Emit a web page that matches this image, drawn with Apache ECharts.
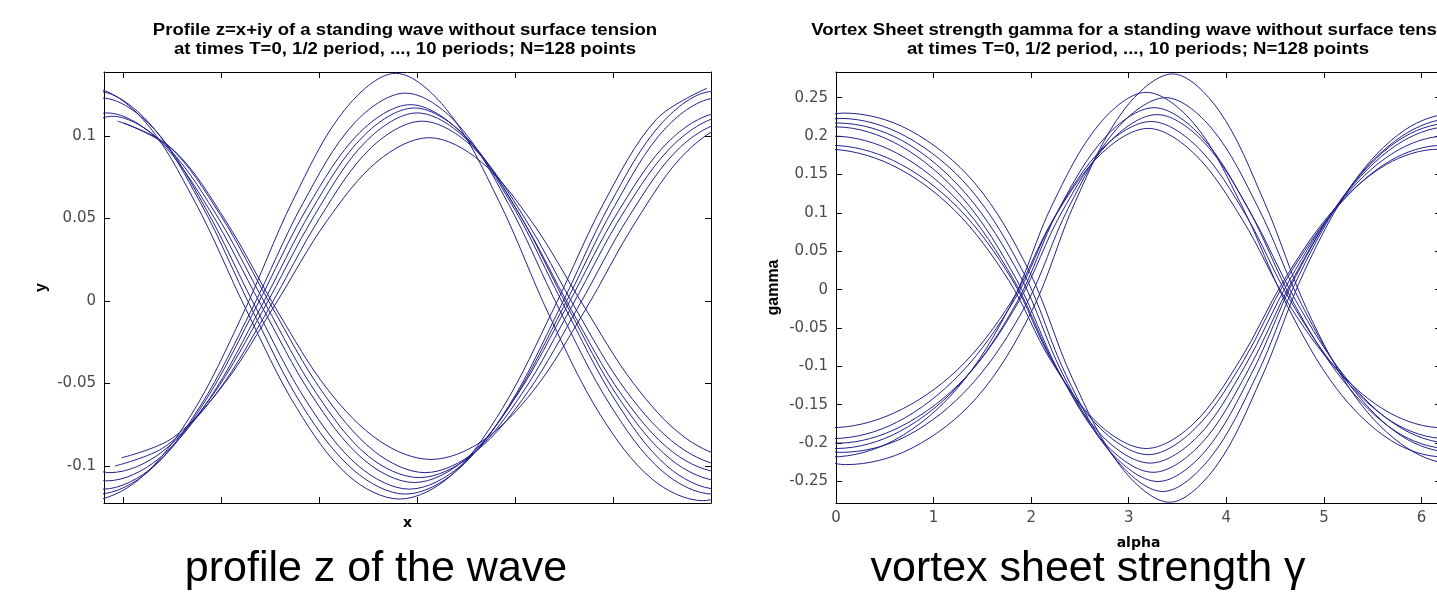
<!DOCTYPE html>
<html>
<head>
<meta charset="utf-8">
<title>Standing wave without surface tension</title>
<script src="https://cdn.jsdelivr.net/npm/echarts@6/dist/echarts.min.js"></script>
<style>
  html, body { margin: 0; padding: 0; background: #fff; }
  #main { width: 1437px; height: 599px; }
</style>
</head>
<body>
<div id="main"></div>
<script>
// profile z = x + iy, curves with the crest in the middle of the box
var profileCrest = [
  [[0.11,-0.108],[0.64,-0.121],[1.16,-0.108],[1.69,-0.069],[2.21,-0.009],[2.73,0.061],[3.26,0.116],[3.78,0.138],[4.30,0.116],[4.83,0.061],[5.35,-0.009],[5.87,-0.069],[6.40,-0.108],[6.92,-0.121],[7.45,-0.108]],
  [[0.21,-0.103],[0.74,-0.117],[1.26,-0.103],[1.79,-0.063],[2.31,-0.005],[2.83,0.059],[3.36,0.108],[3.88,0.126],[4.40,0.108],[4.93,0.059],[5.45,-0.005],[5.97,-0.063],[6.50,-0.103],[7.02,-0.117],[7.55,-0.103]],
  [[0.26,-0.100],[0.79,-0.114],[1.31,-0.100],[1.84,-0.060],[2.36,-0.003],[2.88,0.057],[3.41,0.102],[3.93,0.119],[4.45,0.102],[4.98,0.057],[5.50,-0.003],[6.02,-0.060],[6.55,-0.100],[7.07,-0.114],[7.60,-0.100]],
  [[0.30,-0.096],[0.83,-0.109],[1.35,-0.096],[1.88,-0.059],[2.40,-0.004],[2.92,0.055],[3.45,0.100],[3.97,0.117],[4.49,0.100],[5.02,0.055],[5.54,-0.004],[6.06,-0.059],[6.59,-0.096],[7.11,-0.109],[7.64,-0.096]],
  [[0.33,-0.092],[0.86,-0.104],[1.38,-0.092],[1.91,-0.057],[2.43,-0.005],[2.95,0.052],[3.48,0.097],[4.00,0.114],[4.52,0.097],[5.05,0.052],[5.57,-0.005],[6.09,-0.057],[6.62,-0.092],[7.14,-0.104],[7.67,-0.092]],
  [[0.91,-0.100],[1.43,-0.088],[1.96,-0.055],[2.48,-0.005],[3.00,0.050],[3.53,0.093],[4.05,0.109],[4.57,0.093],[5.10,0.050],[5.62,-0.005],[6.14,-0.055],[6.67,-0.088],[7.19,-0.100],[7.72,-0.088]],
  [[0.98,-0.095],[1.50,-0.083],[2.03,-0.050],[2.55,-0.002],[3.07,0.048],[3.60,0.085],[4.12,0.099],[4.64,0.085],[5.17,0.048],[5.69,-0.002],[6.21,-0.050],[6.74,-0.083],[7.26,-0.095],[7.79,-0.083]]
];

// profile curves with the trough in the middle of the box
var profileTrough = [
  [[0.15,0.110],[0.68,0.129],[1.20,0.110],[1.73,0.060],[2.25,-0.005],[2.77,-0.065],[3.30,-0.106],[3.82,-0.120],[4.34,-0.106],[4.87,-0.065],[5.39,-0.005],[5.91,0.060],[6.44,0.110],[6.96,0.129]],
  [[0.21,0.108],[0.74,0.127],[1.26,0.108],[1.79,0.059],[2.31,-0.005],[2.83,-0.064],[3.36,-0.103],[3.88,-0.117],[4.40,-0.103],[4.93,-0.064],[5.45,-0.005],[5.97,0.059],[6.50,0.108],[7.02,0.127],[7.55,0.108]],
  [[0.25,0.105],[0.78,0.123],[1.30,0.105],[1.83,0.057],[2.35,-0.004],[2.87,-0.061],[3.40,-0.100],[3.92,-0.114],[4.44,-0.100],[4.97,-0.061],[5.49,-0.004],[6.01,0.057],[6.54,0.105],[7.06,0.123],[7.59,0.105]],
  [[0.30,0.098],[0.83,0.114],[1.35,0.098],[1.88,0.055],[2.40,-0.002],[2.92,-0.057],[3.45,-0.096],[3.97,-0.110],[4.49,-0.096],[5.02,-0.057],[5.54,-0.002],[6.06,0.055],[6.59,0.098],[7.11,0.114],[7.64,0.098]],
  [[0.35,0.096],[0.88,0.112],[1.40,0.096],[1.93,0.054],[2.45,-0.002],[2.97,-0.056],[3.50,-0.094],[4.02,-0.107],[4.54,-0.094],[5.07,-0.056],[5.59,-0.002],[6.11,0.054],[6.64,0.096],[7.16,0.112],[7.69,0.096]],
  [[0.94,0.109],[1.46,0.094],[1.99,0.052],[2.51,-0.003],[3.03,-0.055],[3.56,-0.091],[4.08,-0.104],[4.60,-0.091],[5.13,-0.055],[5.65,-0.003],[6.17,0.052],[6.70,0.094],[7.22,0.109],[7.75,0.094]],
  [[1.00,0.108],[1.52,0.091],[2.05,0.048],[2.57,-0.006],[3.09,-0.054],[3.62,-0.085],[4.14,-0.096],[4.66,-0.085],[5.19,-0.054],[5.71,-0.006],[6.23,0.048],[6.76,0.091],[7.28,0.108],[7.81,0.091]]
];

// vortex sheet strength gamma(alpha), crest in the middle
var gammaCrest = [
  [[-0.49,-0.207],[0.10,-0.228],[0.77,-0.207],[1.44,-0.141],[2.01,-0.027],[2.45,0.114],[2.95,0.234],[3.45,0.281],[3.92,0.234],[4.39,0.114],[4.83,-0.027],[5.33,-0.141],[5.86,-0.207],[6.38,-0.228],[7.05,-0.207]],
  [[-0.66,-0.196],[-0.05,-0.218],[0.60,-0.196],[1.24,-0.129],[1.79,-0.020],[2.21,0.109],[2.70,0.216],[3.18,0.257],[3.67,0.216],[4.16,0.109],[4.62,-0.020],[5.13,-0.129],[5.68,-0.196],[6.23,-0.218],[6.88,-0.196]],
  [[-0.54,-0.191],[0.05,-0.212],[0.72,-0.191],[1.38,-0.125],[1.95,-0.019],[2.38,0.106],[2.88,0.210],[3.38,0.250],[3.85,0.210],[4.33,0.106],[4.77,-0.019],[5.27,-0.125],[5.80,-0.191],[6.33,-0.212],[7.00,-0.191]],
  [[-0.60,-0.185],[0.00,-0.207],[0.65,-0.185],[1.30,-0.119],[1.86,-0.015],[2.28,0.104],[2.77,0.200],[3.26,0.237],[3.74,0.200],[4.23,0.104],[4.68,-0.015],[5.20,-0.119],[5.74,-0.185],[6.28,-0.207],[6.93,-0.185]],
  [[-0.58,-0.178],[0.02,-0.200],[0.67,-0.178],[1.33,-0.114],[1.88,-0.014],[2.31,0.100],[2.80,0.192],[3.29,0.228],[3.77,0.192],[4.25,0.100],[4.71,-0.014],[5.22,-0.114],[5.76,-0.178],[6.30,-0.200],[6.95,-0.178]],
  [[-0.63,-0.173],[-0.03,-0.194],[0.62,-0.173],[1.27,-0.110],[1.83,-0.013],[2.25,0.097],[2.74,0.185],[3.23,0.219],[3.71,0.185],[4.20,0.097],[4.65,-0.013],[5.17,-0.110],[5.71,-0.173],[6.25,-0.194],[6.90,-0.173]],
  [[-0.67,-0.161],[-0.06,-0.180],[0.59,-0.161],[1.24,-0.105],[1.80,-0.015],[2.22,0.090],[2.71,0.176],[3.20,0.210],[3.68,0.176],[4.17,0.090],[4.62,-0.015],[5.14,-0.105],[5.68,-0.161],[6.22,-0.180],[6.87,-0.161]]
];

// gamma(alpha), trough in the middle
var gammaTrough = [
  [[-0.51,0.208],[0.08,0.230],[0.75,0.208],[1.42,0.139],[1.98,0.024],[2.42,-0.115],[2.92,-0.231],[3.42,-0.277],[3.89,-0.231],[4.36,-0.115],[4.80,0.024],[5.30,0.139],[5.83,0.208],[6.36,0.230],[7.03,0.208]],
  [[-0.55,0.200],[0.05,0.223],[0.71,0.200],[1.37,0.132],[1.93,0.020],[2.36,-0.112],[2.86,-0.220],[3.35,-0.263],[3.83,-0.220],[4.31,-0.112],[4.75,0.020],[5.26,0.132],[5.80,0.200],[6.33,0.223],[6.99,0.200]],
  [[-0.58,0.194],[0.02,0.217],[0.68,0.194],[1.33,0.125],[1.89,0.017],[2.32,-0.109],[2.81,-0.211],[3.30,-0.250],[3.78,-0.211],[4.26,-0.109],[4.71,0.017],[5.22,0.125],[5.76,0.194],[6.30,0.217],[6.96,0.194]],
  [[-0.61,0.188],[0.00,0.212],[0.65,0.188],[1.30,0.119],[1.85,0.013],[2.28,-0.106],[2.76,-0.201],[3.25,-0.238],[3.74,-0.201],[4.22,-0.106],[4.68,0.013],[5.19,0.119],[5.74,0.188],[6.28,0.212],[6.93,0.188]],
  [[-0.64,0.178],[-0.03,0.200],[0.62,0.178],[1.27,0.113],[1.82,0.013],[2.25,-0.100],[2.73,-0.191],[3.22,-0.226],[3.71,-0.191],[4.19,-0.100],[4.65,0.013],[5.16,0.113],[5.71,0.178],[6.25,0.200],[6.90,0.178]],
  [[-0.67,0.168],[-0.06,0.188],[0.59,0.168],[1.24,0.108],[1.80,0.014],[2.22,-0.094],[2.71,-0.181],[3.20,-0.215],[3.68,-0.181],[4.17,-0.094],[4.62,0.014],[5.14,0.108],[5.68,0.168],[6.22,0.188],[6.87,0.168]],
  [[-0.70,0.163],[-0.10,0.183],[0.56,0.163],[1.21,0.104],[1.77,0.012],[2.20,-0.092],[2.69,-0.175],[3.18,-0.207],[3.66,-0.175],[4.14,-0.092],[4.59,0.012],[5.10,0.104],[5.64,0.163],[6.18,0.183],[6.84,0.163]]
];

var profileXTicks = [1, 2, 3, 4, 5, 6];
var profileYTicks = [-0.1, -0.05, 0, 0.05, 0.1];
var gammaXTicks = [0, 1, 2, 3, 4, 5, 6];
var gammaYTicks = [-0.25, -0.2, -0.15, -0.1, -0.05, 0, 0.05, 0.1, 0.15, 0.2, 0.25];

var titleLeft = 'Profile z=x+iy of a standing wave without surface tension\nat times T=0, 1/2 period, ..., 10 periods; N=128 points';
var titleRight = 'Vortex Sheet strength gamma for a standing wave without surface tension\nat times T=0, 1/2 period, ..., 10 periods; N=128 points';

var chartDom = document.getElementById('main');
var myChart = echarts.init(chartDom);
var option;

var waveColor = '#22228c';
var tickFont = { fontFamily: 'DejaVu Sans', fontSize: 15, color: '#4a4a4a' };
var nameFont = { fontFamily: 'Liberation Sans', fontWeight: 'bold', fontSize: 16, color: '#000' };

function boxAxis(grid, position, min, max, ticks, labels) {
  return {
    type: 'value',
    gridIndex: grid,
    position: position,
    min: min,
    max: max,
    axisLine: { show: true, onZero: false, lineStyle: { color: '#000', width: 1 } },
    axisTick: { show: true, inside: true, length: 6, customValues: ticks, lineStyle: { color: '#000' } },
    axisLabel: labels
      ? Object.assign({ show: true, margin: 8, customValues: ticks }, tickFont)
      : { show: false },
    splitLine: { show: false }
  };
}

// smooth ~1/3 keeps the bezier close to a Catmull-Rom spline, no wobble
function curve(grid, points) {
  return {
    type: 'line',
    xAxisIndex: grid * 2,
    yAxisIndex: grid * 2,
    data: points,
    showSymbol: false,
    smooth: 0.34,
    clip: true,
    silent: true,
    lineStyle: { color: waveColor, width: 1 }
  };
}

var xAxes = [
  boxAxis(0, 'bottom', 0.8, 7.0, profileXTicks, false),
  boxAxis(0, 'top', 0.8, 7.0, profileXTicks, false),
  boxAxis(1, 'bottom', 0, 6.2, gammaXTicks, true),
  boxAxis(1, 'top', 0, 6.2, gammaXTicks, false)
];
xAxes[0].name = 'x';
xAxes[0].nameLocation = 'middle';
xAxes[0].nameGap = 13;
xAxes[0].nameTextStyle = { fontFamily: 'DejaVu Sans', fontWeight: 'bold', fontSize: 14, color: '#000' };
xAxes[2].name = 'alpha';
xAxes[2].nameLocation = 'middle';
xAxes[2].nameGap = 33;
xAxes[2].nameTextStyle = { fontFamily: 'DejaVu Sans', fontWeight: 'bold', fontSize: 14, color: '#000' };

var yAxes = [
  boxAxis(0, 'left', -0.1224, 0.1388, profileYTicks, true),
  boxAxis(0, 'right', -0.1224, 0.1388, profileYTicks, false),
  boxAxis(1, 'left', -0.278, 0.2835, gammaYTicks, true),
  boxAxis(1, 'right', -0.278, 0.2835, gammaYTicks, false)
];
yAxes[0].name = 'y';
yAxes[0].nameLocation = 'middle';
yAxes[0].nameRotate = 90;
yAxes[0].nameGap = 54;
yAxes[0].nameTextStyle = nameFont;
yAxes[2].name = 'gamma';
yAxes[2].nameLocation = 'middle';
yAxes[2].nameRotate = 90;
yAxes[2].nameGap = 54;
yAxes[2].nameTextStyle = nameFont;

var series = [];
profileCrest.forEach(function (c) { series.push(curve(0, c)); });
profileTrough.forEach(function (c) { series.push(curve(0, c)); });
gammaCrest.forEach(function (c) { series.push(curve(1, c)); });
gammaTrough.forEach(function (c) { series.push(curve(1, c)); });

option = {
  backgroundColor: '#fff',
  animation: false,
  grid: [
    { left: 104, top: 72, width: 607, height: 431, outerBoundsMode: 'none' },
    { left: 836, top: 72, width: 605, height: 431, outerBoundsMode: 'none' }
  ],
  xAxis: xAxes,
  yAxis: yAxes,
  graphic: [
    {
      type: 'text', x: 405, y: 21.5, scaleX: 1.16, silent: true,
      style: { text: titleLeft, align: 'center', verticalAlign: 'top', lineHeight: 19,
        fontFamily: 'Liberation Sans', fontWeight: 'bold', fontSize: 16, fill: '#000' }
    },
    {
      type: 'text', x: 1138, y: 21.5, scaleX: 1.16, silent: true,
      style: { text: titleRight, align: 'center', verticalAlign: 'top', lineHeight: 19,
        fontFamily: 'Liberation Sans', fontWeight: 'bold', fontSize: 16, fill: '#000' }
    },
    {
      type: 'text', x: 376, y: 569, silent: true,
      style: { text: 'profile z of the wave', align: 'center', verticalAlign: 'middle',
        fontFamily: 'Liberation Sans', fontSize: 43, fill: '#000' }
    },
    {
      type: 'text', x: 1088, y: 569, silent: true,
      style: { text: 'vortex sheet strength γ', align: 'center', verticalAlign: 'middle',
        fontFamily: 'Liberation Sans', fontSize: 43, fill: '#000' }
    }
  ],
  series: series
};

option && myChart.setOption(option);
</script>
</body>
</html>
